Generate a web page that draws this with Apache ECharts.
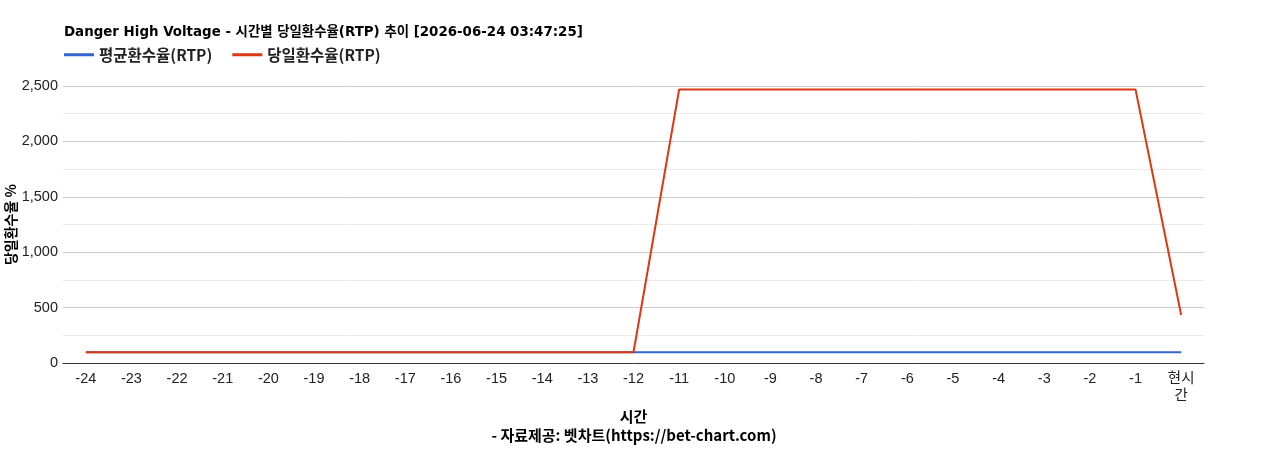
<!DOCTYPE html>
<html><head><meta charset="utf-8">
<script src="https://cdn.jsdelivr.net/npm/echarts@6/dist/echarts.min.js"></script>
<style>html,body{margin:0;padding:0;background:#fff}#c{width:1268px;height:450px}</style>
</head><body><div id="c"></div>
<script>
const categories = ['-24','-23','-22','-21','-20','-19','-18','-17','-16','-15','-14','-13','-12','-11','-10','-9','-8','-7','-6','-5','-4','-3','-2','-1','현시간'];
const avgRtp = [97,97,97,97,97,97,97,97,97,97,97,97,97,97,97,97,97,97,97,97,97,97,97,97,97];
const dayRtp = [97,97,97,97,97,97,97,97,97,97,97,97,97,2468,2468,2468,2468,2468,2468,2468,2468,2468,2468,2468,433];
const yTicks = [0,500,1000,1500,2000,2500];
const tickFont = '"Liberation Sans", Arial, "Noto Sans CJK KR", sans-serif';
const krFont = '"Noto Sans CJK KR", "Noto Sans", sans-serif';
const titleFont = '"DejaVu Sans", "Noto Sans CJK KR", sans-serif';
const chart = echarts.init(document.getElementById('c'));
chart.setOption({
  animation:false,
  title:[{text:'Danger High Voltage - 시간별 당일환수율(RTP) 추이 [2026-06-24 03:47:25]',left:59,top:21,
    textStyle:{fontSize:13.4,fontWeight:'bold',color:'#000',fontFamily:titleFont}},
    {text:'- 자료제공: 벳차트(https://bet-chart.com)',left:'center',top:423,
    textStyle:{fontSize:15,fontWeight:'bold',color:'#000',fontFamily:krFont}}],
  legend:{left:59,top:42,itemWidth:30,itemHeight:3,itemGap:20,icon:'rect',
    textStyle:{fontSize:15.5,fontWeight:'bold',color:'#222',fontFamily:krFont},
    data:['평균환수율(RTP)','당일환수율(RTP)']},
  grid:{left:63,right:64,top:86,bottom:87,containLabel:false,outerBoundsMode:'none'},
  xAxis:{type:'category',data:categories,boundaryGap:true,
    name:'시간',nameLocation:'middle',nameGap:46,
    nameTextStyle:{fontSize:15,fontWeight:'bold',color:'#000',fontFamily:krFont},
    axisLine:{lineStyle:{color:'#333'}},axisTick:{show:false},
    axisLabel:{interval:0,fontSize:14.5,color:'#222',fontFamily:tickFont,margin:7,lineHeight:17,
      formatter:v=>v==='현시간'?'현시\n간':v}},
  yAxis:{type:'value',min:yTicks[0],max:yTicks[yTicks.length-1],interval:500,
    name:'당일환수율 %',nameLocation:'middle',nameGap:45,nameRotate:90,nameMoveOverlap:false,
    nameTextStyle:{fontSize:14,fontWeight:'bold',color:'#000',fontFamily:krFont},
    axisLine:{show:false},axisTick:{show:false},
    axisLabel:{fontSize:14.5,color:'#222',fontFamily:tickFont,margin:5,formatter:v=>v.toLocaleString('en-US')},
    splitLine:{lineStyle:{color:'#cccccc'}},
    minorTick:{show:false,splitNumber:2},
    minorSplitLine:{show:true,lineStyle:{color:'#ebebeb'}}},
  series:[
    {name:'평균환수율(RTP)',type:'line',data:avgRtp,symbol:'none',color:'#3366cc',lineStyle:{width:2}},
    {name:'당일환수율(RTP)',type:'line',data:dayRtp,symbol:'none',color:'#dc3912',lineStyle:{width:2}}
  ]
});
</script></body></html>
